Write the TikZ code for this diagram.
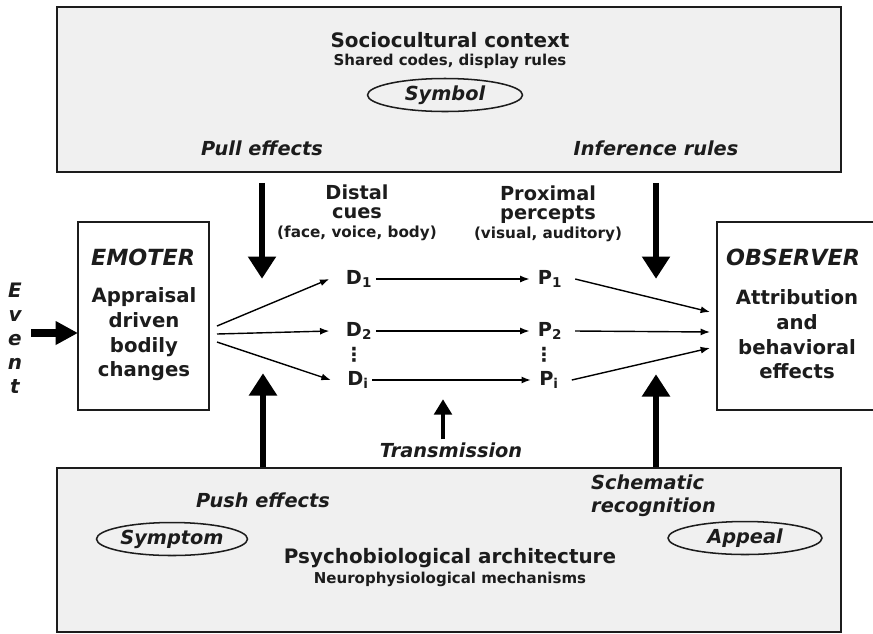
\documentclass[tikz,border=0pt]{standalone}
\usepackage{fontspec}
\setmainfont{DejaVu Sans}[BoldItalicFont={* Bold Oblique}]
\usepackage{xcolor}
\usetikzlibrary{arrows.meta,shapes.geometric}

\definecolor{panelgray}{HTML}{F0F0F0}
\definecolor{ink}{HTML}{1C1C1C}

\tikzset{
  panel/.style={draw=ink,line width=1.3pt,fill=panelgray,minimum width=23.52cm},
  actor/.style={draw=ink,line width=1pt,fill=white,minimum height=5.64cm},
  title/.style={font=\fontsize{17}{19}\selectfont\bfseries,inner sep=0pt},
  subtitle/.style={font=\fontsize{12.8}{14}\selectfont\bfseries,inner sep=0pt},
  label/.style={font=\fontsize{16.5}{20}\selectfont\bfseries\itshape,inner sep=0pt},
  role/.style={font=\fontsize{19}{21}\selectfont\bfseries\itshape,inner sep=0pt},
  body/.style={font=\fontsize{16.8}{21}\selectfont\bfseries,align=center,inner sep=0pt},
  cue/.style={font=\fontsize{16.5}{16}\selectfont\bfseries,align=center,inner sep=0pt},
  oval/.style={ellipse,draw=ink,line width=1.3pt,minimum height=0.99cm,inner sep=0pt,
    font=\fontsize{16.5}{20}\selectfont\bfseries\itshape},
  thinarrow/.style={line width=1.2pt,-{Latex[length=8pt,width=6pt]}},
  bigarrow/.style={line width=5.7pt,-{Triangle[length=19pt,width=23pt]}},
  midarrow/.style={line width=2.8pt,-{Triangle[length=13pt,width=15pt]}},
  eventarrow/.style={line width=6.5pt,-{Triangle[length=19pt,width=19pt]}}
}

\begin{document}
\begin{tikzpicture}[x=0.03cm,y=-0.03cm,text=ink]
  \useasboundingbox (0,0) rectangle (873,633);

  % sociocultural context
  \node[panel,minimum height=4.95cm] (socio) at (449,89.5) {};
  \node[title] (socio title) at (450,40) {Sociocultural context};
  \node[subtitle] (socio sub) at (450,61) {Shared codes, display rules};
  \node[oval,minimum width=4.65cm] (symbol) at (445,95) {Symbol};
  \node[label] (pull) at (262,148) {Pull effects};
  \node[label] (inference) at (656,148) {Inference rules};

  % psychobiological architecture
  \node[panel,minimum height=4.92cm] (psycho) at (449,550) {};
  \node[label] (push) at (263,500) {Push effects};
  \node[label,align=left,anchor=west] (schematic) at (591,496) {Schematic\\recognition};
  \node[oval,minimum width=4.53cm] (symptom) at (172,539) {Symptom};
  \node[oval,minimum width=4.62cm] (appeal) at (745,538) {Appeal};
  \node[title] (psycho title) at (450,558) {Psychobiological architecture};
  \node[subtitle] (psycho sub) at (450,579) {Neurophysiological mechanisms};

  % emoter and observer
  \node[actor,minimum width=3.93cm] (emoter) at (143.5,316) {};
  \node[role] (emoter title) at (143,257) {EMOTER};
  \node[body] (emoter body) at (144,334.5) {Appraisal\\driven\\bodily\\changes};
  \node[actor,minimum width=4.86cm] (observer) at (798,316) {};
  \node[role] (observer title) at (793,257) {OBSERVER};
  \node[body] (observer body) at (797,334.5) {Attribution\\and\\behavioral\\effects};

  \node[label,align=center,font=\fontsize{17}{20.5}\selectfont\bfseries\itshape] (event) at (15,338.5) {E\\v\\e\\n\\t};
  \coordinate (event in) at (78,333);
  \draw[eventarrow] (event.east |- event in) ++(9,0) -- (event in);

  % cues and percepts
  \node[cue] (distal) at (357,213) {Distal\\cues\\{\fontsize{13}{13}\selectfont(face, voice, body)}};
  \node[cue] (proximal) at (548,214) {Proximal\\percepts\\{\fontsize{13}{13}\selectfont(visual, auditory)}};

  \node[cue] (d1) at (359,279) {D\textsubscript{1}};
  \node[cue] (d2) at (359,331) {D\textsubscript{2}};
  \node[cue] (ddots) at (354,355) {⋮};
  \node[cue] (di) at (358,380) {D\textsubscript{i}};
  \node[cue] (p1) at (550,279) {P\textsubscript{1}};
  \node[cue] (p2) at (550,331) {P\textsubscript{2}};
  \node[cue] (pdots) at (544,355) {⋮};
  \node[cue] (pi) at (549,380) {P\textsubscript{i}};

  \coordinate (emo out 1) at (217,326);
  \coordinate (emo out 2) at (217,334);
  \coordinate (emo out 3) at (217,342);
  \coordinate (obs in 1) at (710,312);
  \coordinate (obs in 2) at (710,332);
  \coordinate (obs in 3) at (710,348);

  \draw[thinarrow] (emo out 1) -- ([xshift=-14pt]d1.west);
  \draw[thinarrow] (emo out 2) -- ([xshift=-14pt]d2.west);
  \draw[thinarrow] (emo out 3) -- ([xshift=-14pt]di.west);
  \foreach \d/\p in {d1/p1,d2/p2,di/pi}
    \draw[thinarrow] ([xshift=3pt]\d.east) -- ([xshift=-7pt]\p.west);
  \draw[thinarrow] ([xshift=11pt]p1.east) -- (obs in 1);
  \draw[thinarrow] ([xshift=11pt]p2.east) -- (obs in 2);
  \draw[thinarrow] ([xshift=11pt]pi.east) -- (obs in 3);

  % pull, push and transmission
  \draw[bigarrow] (socio.south -| pull.south) ++(0,10) -- ++(0,96);
  \draw[bigarrow] (socio.south -| inference.south) ++(0,10) -- ++(0,96);
  \draw[bigarrow] (psycho.north -| push.north) -- ++(0,-94);
  \draw[bigarrow] (psycho.north -| inference.south) -- ++(0,-93);
  \node[label] (transmission) at (451,450) {Transmission};
  \draw[midarrow] (transmission.north) ++(-8,-3) -- ++(0,-40);
\end{tikzpicture}
\end{document}
